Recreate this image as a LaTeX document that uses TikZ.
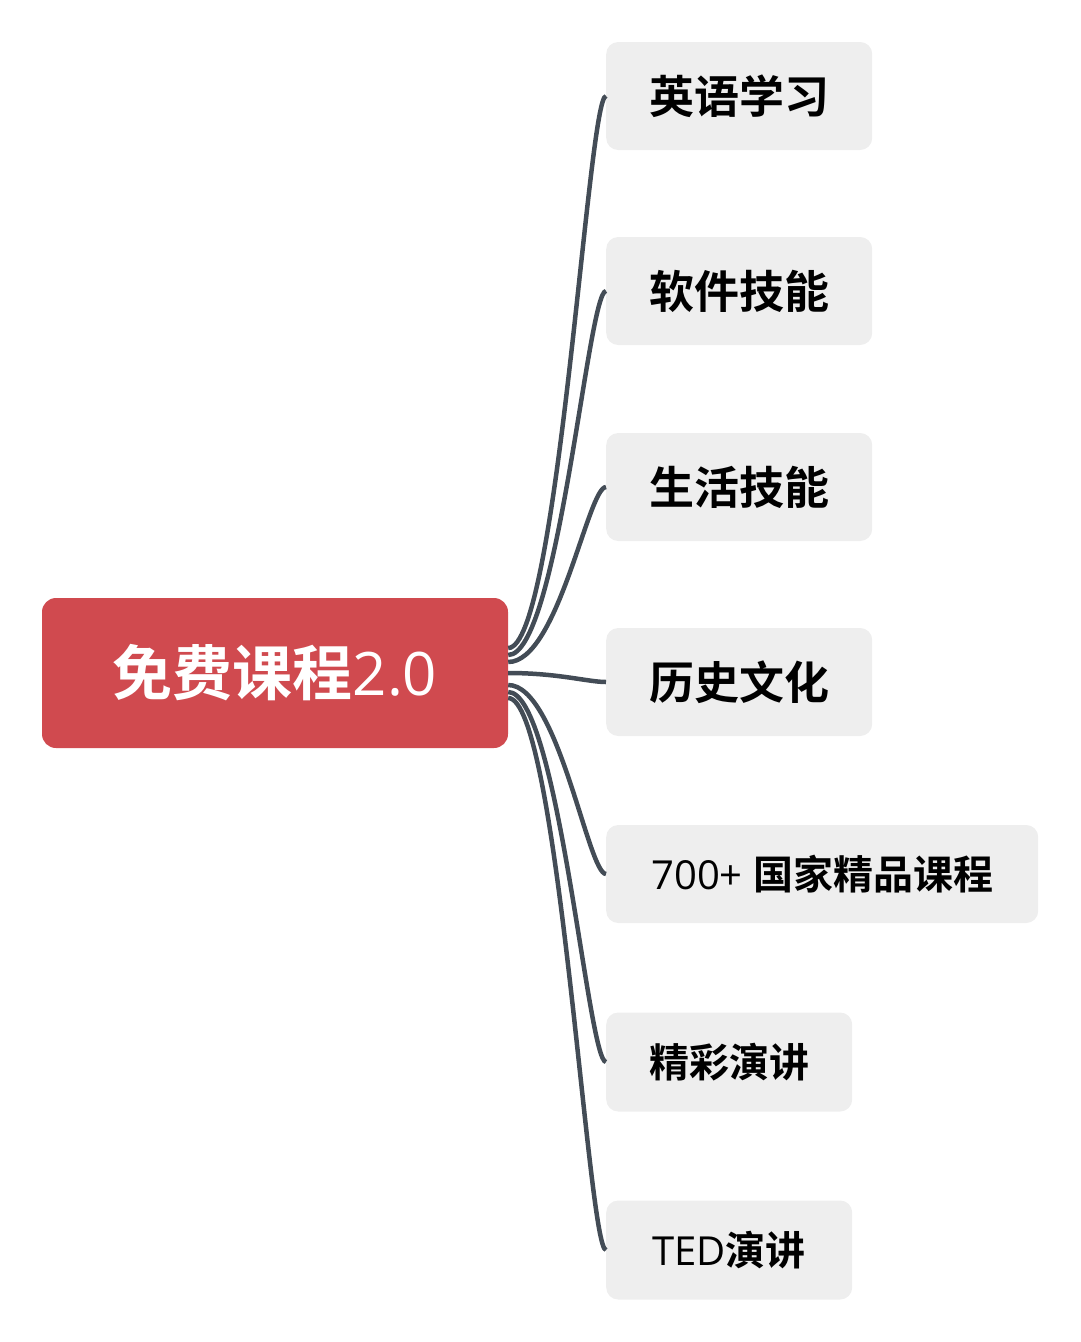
\documentclass[tikz,border=0pt]{standalone}
\usepackage{fontspec}
\usetikzlibrary{calc}
\setmainfont{Open Sans}
\newfontfamily\cjk{Noto Sans CJK SC}[BoldFont={Noto Sans CJK SC Bold}]
\definecolor{rootred}{HTML}{D04A4F}
\definecolor{cardgray}{HTML}{EEEEEE}
\definecolor{linegray}{HTML}{434C56}
\newcommand{\zh}[1]{{\cjk\bfseries #1}}

\begin{document}
\begin{tikzpicture}[x=1pt, y=-1pt,
  topic/.style={fill=rootred, rounded corners=14pt, text=white, inner sep=0pt,
    minimum width=466pt, minimum height=150pt, font=\fontsize{60}{72}\selectfont},
  subtopic/.style={fill=cardgray, rounded corners=12pt, text=black, anchor=west,
    inner xsep=43pt, inner ysep=0pt, minimum height=108pt, font=\fontsize{45}{54}\selectfont},
  smalltopic/.style={subtopic, minimum height=99pt, minimum width=246pt,
    font=\fontsize{40}{48}\selectfont},
  branch/.style={draw=linegray, line width=4.5pt}]
  \useasboundingbox (0,0) rectangle (1080,1342);

  \node[topic] (root) at (275,673) {\zh{免费课程}2.0};

  \node[subtopic] (english)  at (606,96)  {\zh{英语学习}};
  \node[subtopic] (software) at (606,291) {\zh{软件技能}};
  \node[subtopic] (life)     at (606,487) {\zh{生活技能}};
  \node[subtopic] (history)  at (606,682) {\zh{历史文化}};
  \node[smalltopic, minimum height=98pt, minimum width=432pt] (courses) at (606,874) {700+ \zh{国家精品课程}};
  \node[smalltopic] (talks)  at (606,1062) {\zh{精彩演讲}};
  \node[smalltopic] (ted)    at (606,1250) {TED\zh{演讲}};

  % branches leave the root slightly apart
  \foreach \dst/\dy in {english/-25, software/-18, life/-11, history/0,
                        courses/12, talks/19, ted/25}
    \draw[branch] ($(root.east)+(0,\dy)$) .. controls +(50,0) and +(-18,0) .. (\dst.west);
\end{tikzpicture}
\end{document}
